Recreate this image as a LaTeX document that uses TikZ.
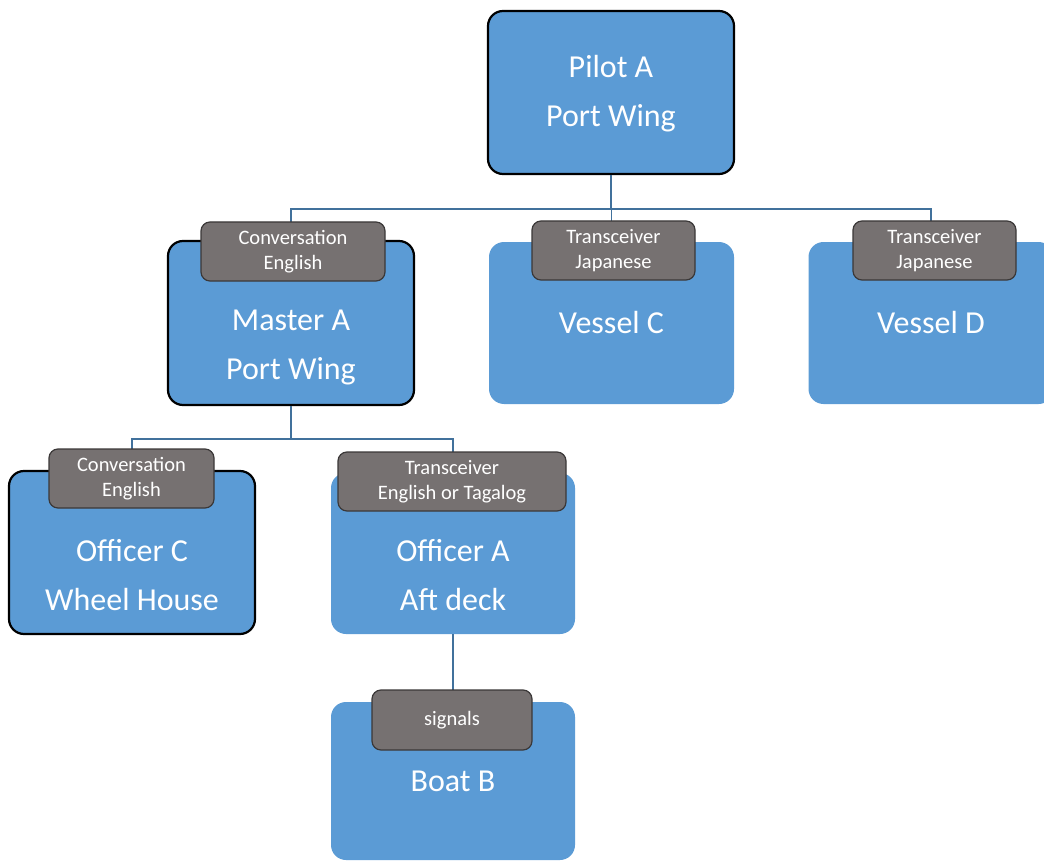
\documentclass[tikz,border=0pt]{standalone}
\usepackage{fontspec}
\setmainfont{Carlito}
\usepackage{tikz}
\definecolor{boxblue}{RGB}{91, 155, 213}
\definecolor{tabgray}{RGB}{118, 113, 113}
\definecolor{tabedge}{RGB}{59, 56, 56}
\definecolor{linkblue}{RGB}{65, 113, 156}

\tikzset{
  box/.style={fill=boxblue, rounded corners=15pt, inner sep=0pt},
  boxedge/.style={box, draw=black, line width=2.2pt},
  boxtext/.style={text=white, align=center, inner sep=0pt,
    font=\fontsize{32}{49}\selectfont},
  tab/.style={fill=tabgray, draw=tabedge, line width=1.2pt, rounded corners=9pt,
    minimum height=59pt, inner sep=0pt, text=white, align=center,
    font=\fontsize{20.5}{25}\selectfont},
  link/.style={draw=linkblue, line width=1.3pt}
}

\begin{document}
\begin{tikzpicture}[x=1pt, y=-1pt]
  \useasboundingbox (0, 0) rectangle (1044, 861);
  \clip (0, 0) rectangle (1044, 861);

  % Boxes
  \node[boxedge, minimum width=246pt, minimum height=163pt] (pilot) at (611, 92.5) {};
  \node[boxedge, minimum width=246pt, minimum height=164pt] (master) at (291, 323) {};
  \node[box, minimum width=245pt, minimum height=162pt] (vesselc) at (611.5, 323) {};
  \node[box, minimum width=245pt, minimum height=162pt] (vesseld) at (931, 323) {};
  \node[boxedge, minimum width=246pt, minimum height=163pt] (officerc) at (132, 552.5) {};
  \node[box, minimum width=244pt, minimum height=161pt] (officera) at (453, 553.5) {};
  \node[box, minimum width=244pt, minimum height=158pt] (boatb) at (453, 781) {};

  % Connectors
  \draw[link] (pilot.south) -- ++(0, 34) coordinate (bus1);
  \foreach \n in {master, vesselc, vesseld} {
    \draw[link] (bus1) -| (\n.north);
  }
  \draw[link] (master.south) -- ++(0, 33) coordinate (bus2);
  \foreach \n in {officerc, officera} {
    \draw[link] (bus2) -| (\n.north);
  }
  \draw[link] (officera.south) -- (boatb.north);

  % Box texts
  \node[boxtext] (pilot-t) at ([yshift=-1pt]pilot.center) {Pilot A\\Port Wing};
  \node[boxtext] (master-t) at ([yshift=-24pt]master.center) {Master A\\Port Wing};
  \node[boxtext] (vesselc-t) at (vesselc.center) {Vessel C};
  \node[boxtext] (vesseld-t) at (vesseld.center) {Vessel D};
  \node[boxtext] (officerc-t) at ([yshift=-23pt]officerc.center) {Officer C\\Wheel House};
  \node[boxtext] (officera-t) at ([yshift=-22pt]officera.center) {Officer A\\Aft deck};
  \node[boxtext] (boatb-t) at (boatb.center) {Boat B};

  % Tabs
  \node[tab, minimum width=184pt] (master-tab) at (293, 251.5) {Conversation\\English};
  \node[tab, minimum width=163pt] (vesselc-tab) at (613.5, 250.5) {Transceiver\\Japanese};
  \node[tab, minimum width=163pt] (vesseld-tab) at (934.5, 250.5) {Transceiver\\Japanese};
  \node[tab, minimum width=165pt] (officerc-tab) at (131.5, 478.5) {Conversation\\English};
  \node[tab, minimum width=228pt] (officera-tab) at (452, 481.5) {Transceiver\\English or Tagalog};
  \node[tab, minimum width=160pt, minimum height=60pt] (boatb-tab) at (452, 720) {signals};

\end{tikzpicture}
\end{document}
